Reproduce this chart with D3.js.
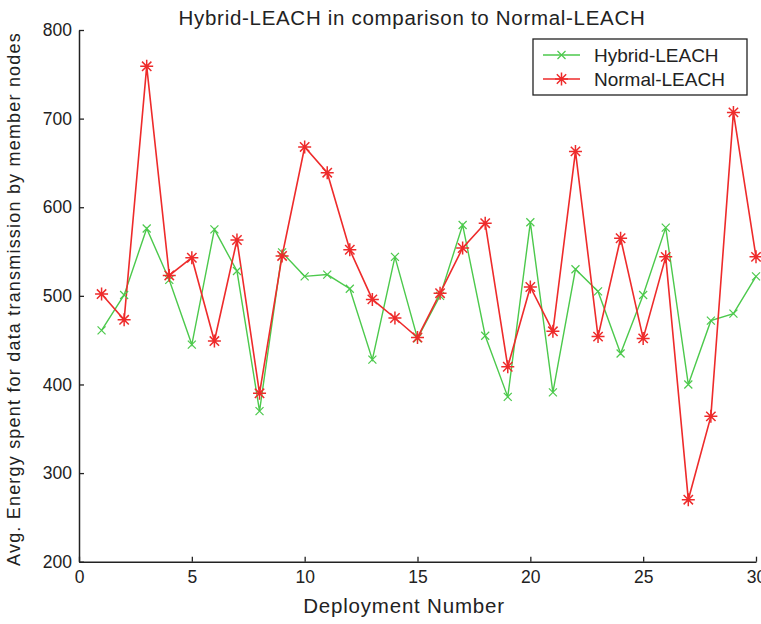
<!DOCTYPE html>
<html><head><meta charset="utf-8">
<script src="https://cdn.jsdelivr.net/npm/d3@7"></script>
<style>
html,body{margin:0;padding:0;background:#fff;}
svg{display:block;font-family:"Liberation Sans",Arial,sans-serif;}
</style></head>
<body><svg id="c" width="761" height="624"></svg>
<script>
const deployments = d3.range(1, 31);
const hybridLeach = [461,501,576,518,445,575,528,370,549,522,524,508,428,544,452,500,580,455,386,583,391,530,505,435,501,577,400,472,480,522];
const normalLeach = [502,473,759,523,543,449,563,390,545,668,639,552,496,475,453,503,554,582,420,510,460,663,454,565,452,544,270,364,707,544];
const xTicks = [0,5,10,15,20,25,30];
const yTicks = [200,300,400,500,600,700,800];
const title = "Hybrid-LEACH in comparison to Normal-LEACH";
const xLabel = "Deployment Number";
const yLabel = "Avg. Energy spent for data transmission by member nodes";
const seriesNames = ["Hybrid-LEACH","Normal-LEACH"];

const svg = d3.select("#c");
const x = d3.scaleLinear().domain([0,30]).range([79,756]);
const y = d3.scaleLinear().domain([200,800]).range([561.7,30]);
const green = "#4cc94c", red = "#ee2b2b";

// axes
const xa = svg.append("g").attr("transform","translate(0,561.7)")
  .call(d3.axisBottom(x).tickValues(xTicks).tickSize(-5).tickPadding(9).tickSizeOuter(0));
const ya = svg.append("g").attr("transform","translate(79,0)")
  .call(d3.axisLeft(y).tickValues(yTicks).tickSize(-5).tickPadding(7).tickSizeOuter(0));
[xa,ya].forEach(g=>{
  g.select(".domain").attr("stroke","#222").attr("stroke-width",1.5);
  g.selectAll(".tick line").attr("stroke","#222").attr("stroke-width",1.3);
  g.selectAll(".tick text").attr("font-size",17.5).attr("fill","#222");
});
xa.selectAll(".tick text").attr("dy","0.71em");

const line = (vals)=> d3.line().x((d,i)=>x(deployments[i])).y(d=>y(d))(vals);

function drawX(g, cx, cy, s, col){
  g.append("path").attr("d",`M${cx-s},${cy-s}L${cx+s},${cy+s}M${cx-s},${cy+s}L${cx+s},${cy-s}`)
   .attr("stroke",col).attr("stroke-width",1.2).attr("fill","none");
}
function drawStar(g, cx, cy, s, col){
  const d = s*0.72;
  g.append("path").attr("d",`M${cx-s},${cy}L${cx+s},${cy}M${cx},${cy-s}L${cx},${cy+s}M${cx-d},${cy-d}L${cx+d},${cy+d}M${cx-d},${cy+d}L${cx+d},${cy-d}`)
   .attr("stroke",col).attr("stroke-width",1.5).attr("fill","none");
}

svg.append("path").attr("d",line(hybridLeach)).attr("fill","none").attr("stroke",green).attr("stroke-width",1.4);
svg.append("path").attr("d",line(normalLeach)).attr("fill","none").attr("stroke",red).attr("stroke-width",1.6);
const gm = svg.append("g");
hybridLeach.forEach((v,i)=>drawX(gm, x(deployments[i]), y(v), 4, green));
normalLeach.forEach((v,i)=>drawStar(gm, x(deployments[i]), y(v), 6.5, red));

// title & labels
svg.append("text").attr("x",412).attr("y",25).attr("text-anchor","middle").attr("font-size",20.5).attr("letter-spacing",0.7).attr("fill","#222").text(title);
svg.append("text").attr("x",404).attr("y",613).attr("text-anchor","middle").attr("font-size",20.5).attr("letter-spacing",0.8).attr("fill","#222").text(xLabel);
svg.append("text").attr("transform","translate(20,299) rotate(-90)").attr("text-anchor","middle").attr("font-size",18).attr("letter-spacing",1.2).attr("fill","#222").text(yLabel);

// legend
const lg = svg.append("g");
lg.append("rect").attr("x",533).attr("y",39).attr("width",214).attr("height",56).attr("fill","#fff").attr("stroke","#222").attr("stroke-width",1.3);
const rows = [{n:seriesNames[0],c:green,y:55,m:"x"},{n:seriesNames[1],c:red,y:79,m:"s"}];
rows.forEach(r=>{
  lg.append("line").attr("x1",543).attr("x2",580).attr("y1",r.y).attr("y2",r.y).attr("stroke",r.c).attr("stroke-width",r.m==="x"?1.4:1.6);
  if(r.m==="x") drawX(lg,561.5,r.y,4,r.c); else drawStar(lg,561.5,r.y,6.5,r.c);
  lg.append("text").attr("x",594).attr("y",r.y+7).attr("font-size",19).attr("fill","#222").text(r.n);
});
</script></body></html>
